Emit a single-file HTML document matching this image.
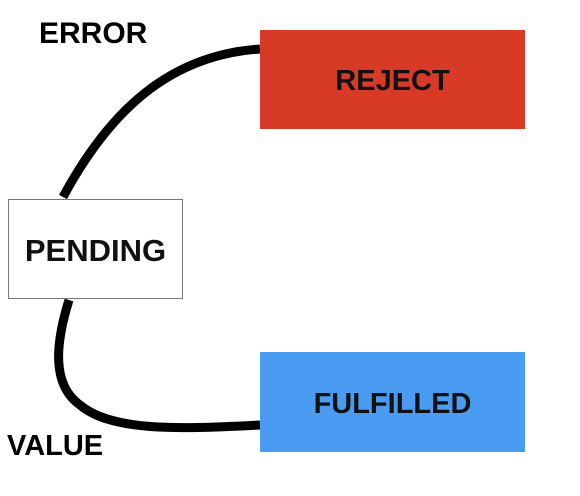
<!DOCTYPE html>
<html><head><style>
body{margin:0;width:580px;height:496px;background:#fff;position:relative;overflow:hidden;font-family:"Liberation Sans",sans-serif;font-weight:bold;}
.t{position:absolute;line-height:1;white-space:nowrap;}
.box{position:absolute;display:flex;align-items:center;justify-content:center;font-size:29px;color:#111;box-sizing:border-box;padding-top:4px;}
</style></head><body>
<svg width="580" height="496" style="position:absolute;left:0;top:0">
<path d="M63,197 C110,110 170,55 260,49" fill="none" stroke="#000" stroke-width="9"/>
<path d="M69,300 C55,345 52,385 80,405 C110,430 170,430 260,425" fill="none" stroke="#000" stroke-width="9"/>
</svg>
<div class="box" style="left:260px;top:30px;width:265px;height:99px;background:#d83a28;">REJECT</div>
<div class="box" style="left:260px;top:352px;width:265px;height:100px;background:#4a9bf2;">FULFILLED</div>
<div class="box" style="left:8px;top:199px;width:175px;height:100px;background:#fff;border:1px solid #777;font-size:31px;">PENDING</div>
<div class="t" style="left:39px;top:19px;font-size:30px;">ERROR</div>
<div class="t" style="left:7px;top:432px;font-size:29px;">VALUE</div>
</body></html>
